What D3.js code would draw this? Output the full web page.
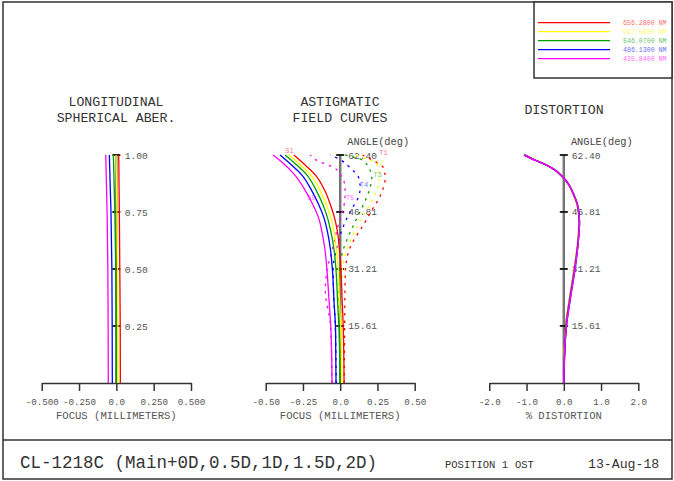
<!DOCTYPE html>
<html>
<head>
<meta charset="utf-8">
<script src="https://cdn.jsdelivr.net/npm/d3@7"></script>
<style>
  html, body { margin: 0; padding: 0; background: #fff; }
  svg { display: block; }
  text { font-family: "Liberation Mono", "DejaVu Sans Mono", monospace; }
</style>
</head>
<body>
<svg id="chart" width="674" height="481"></svg>
<script>
// ---- wavelengths (legend) ----
const wavelengths = ["656.2800", "587.5600", "546.0700", "486.1300", "435.8400"];
const waveColors  = ["#ff0000", "#ffff00", "#00a000", "#0000ff", "#ff00ff"];

// ---- longitudinal spherical aberration: focus (mm) vs relative pupil ----
const pupil = [0, 0.25, 0.5, 0.75, 1.0];
const lsaRed     = [0.027, 0.026, 0.023, 0.020, 0.016];
const lsaYellow  = [0.011, 0.010, 0.008, 0.004, -0.002];
const lsaGreen   = [0.000, -0.001, -0.004, -0.010, -0.020];
const lsaBlue    = [-0.027, -0.028, -0.030, -0.036, -0.047];
const lsaMagenta = [-0.054, -0.055, -0.057, -0.062, -0.071];
const lsaTicks = ["0.25", "0.50", "0.75", "1.00"];
const lsaTickVals = [0.25, 0.5, 0.75, 1.0];

// ---- astigmatic field curves: focus (mm) vs field angle (deg) ----
// sagittal (solid)
const sagAngles  = [0, 14.5, 22.7, 30.9, 36.4, 41.3, 45.2, 48.7, 52.8, 56.9, 60.2, 62.4];
const sagRed     = [0.026, 0.021, 0.013, 0.005, -0.005, -0.018, -0.038, -0.065, -0.105, -0.166, -0.250, -0.311];
const sagYellow  = [0.010, 0.004, -0.005, -0.013, -0.025, -0.042, -0.062, -0.092, -0.136, -0.196, -0.280, -0.344];
const sagGreen   = [-0.001, -0.008, -0.018, -0.028, -0.041, -0.062, -0.085, -0.115, -0.162, -0.223, -0.307, -0.370];
const sagBlue    = [-0.028, -0.031, -0.042, -0.052, -0.065, -0.085, -0.109, -0.143, -0.193, -0.257, -0.341, -0.404];
const sagMagenta = [-0.055, -0.062, -0.075, -0.089, -0.102, -0.122, -0.145, -0.182, -0.236, -0.304, -0.384, -0.451];

// tangential (dashed)
const tanAngles  = [0, 15.61, 25.5, 31.21, 36.4, 44.1, 47.9, 50.1, 53.4, 56.1, 59.0, 61.0, 62.4];
const tanRed     = [0.027, 0.030, 0.032, 0.036, 0.060, 0.168, 0.221, 0.255, 0.289, 0.302, 0.289, 0.215, 0.150];
const tanYellow  = [0.011, 0.010, 0.010, 0.015, 0.045, 0.130, 0.185, 0.215, 0.250, 0.262, 0.258, 0.200, 0.100];
const tanGreen   = [0.000, -0.004, -0.008, -0.004, 0.020, 0.100, 0.145, 0.170, 0.200, 0.212, 0.190, 0.148, 0.034];
const tanBlue    = [-0.027, -0.033, -0.045, -0.047, -0.027, 0.034, 0.081, 0.114, 0.134, 0.125, 0.065, 0.005, -0.067];
const tanMagenta = [-0.054, -0.065, -0.100, -0.087, -0.054, -0.007, 0.020, 0.032, 0.033, 0.015, -0.045, -0.160, -0.201];

// curve labels: text, focus (mm), angle (deg), colour index
const curveLabels = [
  ["S1", -0.34, 63.6, 0], ["S5", -0.195, 50.8, 4],
  ["T1", 0.29, 63.2, 0], ["T2", 0.265, 60.4, 1], ["T3", 0.25, 57.2, 2],
  ["T4", 0.16, 54.2, 3], ["T5", 0.067, 50.8, 4]
];

const angleTicks = ["15.61", "31.21", "46.81", "62.40"];
const angleTickVals = [15.61, 31.21, 46.81, 62.40];

// ---- distortion (%) vs field angle (deg) ----
const distAngles  = [0, 7.7, 15.61, 23.5, 31.21, 39.1, 44.1, 48.7, 51.5, 54.2, 56.1, 56.9, 58.3, 59.7, 61.0, 62.4];
const distRed     = [0, 0.01, 0.05, 0.16, 0.28, 0.38, 0.41, 0.36, 0.26, 0.13, 0.00, -0.08, -0.24, -0.47, -0.76, -1.05];
const distYellow  = [0, 0.01, 0.06, 0.17, 0.29, 0.38, 0.41, 0.36, 0.26, 0.13, 0.00, -0.08, -0.24, -0.47, -0.77, -1.06];
const distGreen   = [0, 0.02, 0.06, 0.17, 0.29, 0.39, 0.42, 0.37, 0.27, 0.14, 0.00, -0.08, -0.24, -0.48, -0.77, -1.06];
const distBlue    = [0, 0.02, 0.07, 0.18, 0.30, 0.39, 0.42, 0.37, 0.27, 0.14, 0.00, -0.08, -0.24, -0.48, -0.78, -1.07];
const distMagenta = [0, 0.02, 0.07, 0.18, 0.30, 0.39, 0.42, 0.37, 0.27, 0.14, 0.00, -0.08, -0.24, -0.48, -0.78, -1.07];

// x-axis ticks
const focusTickVals = [-0.5, -0.25, 0, 0.25, 0.5];
const focusTicksL = ["-0.500", "-0.250", "0.0", "0.250", "0.500"];
const focusTicksM = ["-0.50", "-0.25", "0.0", "0.25", "0.50"];
const distTickVals = [-2, -1, 0, 1, 2];
const distTicks   = ["-2.0", "-1.0", "0.0", "1.0", "2.0"];

const svg = d3.select("#chart");
const ink = "#333";
const grayText = "#555";

// ---- frame ----
svg.append("rect").attr("x", 3).attr("y", 2).attr("width", 669).attr("height", 477)
  .attr("fill", "none").attr("stroke", ink).attr("stroke-width", 1.5);
svg.append("line").attr("x1", 3).attr("x2", 672).attr("y1", 440).attr("y2", 440)
  .attr("stroke", ink).attr("stroke-width", 1.5);

// ---- legend ----
const legend = svg.append("g");
legend.append("rect").attr("x", 534).attr("y", 2).attr("width", 138).attr("height", 76)
  .attr("fill", "#fff").attr("stroke", ink).attr("stroke-width", 1.5);
const legY = d3.scalePoint().domain(wavelengths).range([22.7, 58.7]);
wavelengths.forEach((w, i) => {
  legend.append("line").attr("x1", 538).attr("x2", 610)
    .attr("y1", legY(w)).attr("y2", legY(w))
    .attr("stroke", waveColors[i]).attr("stroke-width", 1.2);
  legend.append("text").attr("x", 623).attr("y", legY(w) + 2.5)
    .attr("font-size", 6.6).attr("fill", waveColors[i]).attr("opacity", 0.6)
    .text(w + " NM");
});

// ---- footer text ----
svg.append("text").attr("x", 20).attr("y", 468).attr("font-size", 17.5).attr("fill", ink)
  .text("CL-1218C (Main+0D,0.5D,1D,1.5D,2D)");
svg.append("text").attr("x", 445).attr("y", 468).attr("font-size", 10.5).attr("fill", ink)
  .text("POSITION 1");
svg.append("text").attr("x", 515).attr("y", 468).attr("font-size", 10.5).attr("fill", ink)
  .text("OST");
svg.append("text").attr("x", 588).attr("y", 468).attr("font-size", 13.2).attr("fill", ink)
  .text("13-Aug-18");

// shared helpers
const yBottom = 383, yTop = 155;

function title(lines, cx, y0) {
  lines.forEach((t, i) => {
    svg.append("text").attr("x", cx).attr("y", y0 + i * 16.5)
      .attr("text-anchor", "middle").attr("font-size", 13.2).attr("fill", ink).text(t);
  });
}

function xAxis(scale, vals, labels, titleText) {
  const g = svg.append("g").attr("transform", `translate(0,${yBottom})`)
    .call(d3.axisBottom(scale).tickValues(vals).tickSize(8).tickSizeOuter(0)
      .tickFormat((d, i) => labels[i]));
  g.select(".domain").attr("stroke", ink).attr("stroke-width", 1.5);
  g.selectAll(".tick line").attr("stroke", ink).attr("stroke-width", 1.5);
  g.selectAll(".tick text").attr("font-size", 9.2).attr("fill", grayText)
    .attr("font-family", "Liberation Mono, monospace").attr("y", 15);
  const r = scale.range();
  svg.append("text").attr("x", (r[0] + r[1]) / 2).attr("y", 419)
    .attr("text-anchor", "middle").attr("font-size", 10.6).attr("fill", grayText)
    .text(titleText);
}

function yAxis(x0, yScale, vals, labels, labelDx, withAngleTitle) {
  svg.append("line").attr("x1", x0).attr("x2", x0)
    .attr("y1", yScale.range()[0]).attr("y2", yScale.range()[1])
    .attr("stroke", "#777").attr("stroke-width", 2.5);
  vals.forEach((v, i) => {
    svg.append("line").attr("x1", x0 - 4).attr("x2", x0 + 4)
      .attr("y1", yScale(v)).attr("y2", yScale(v))
      .attr("stroke", "#111").attr("stroke-width", 1.8);
    svg.append("text").attr("x", x0 + labelDx).attr("y", yScale(v) + 3.5)
      .attr("font-size", 9.6).attr("fill", grayText).text(labels[i]);
  });
  if (withAngleTitle) {
    svg.append("text").attr("x", x0 + 38).attr("y", 145)
      .attr("text-anchor", "middle").attr("font-size", 10.3).attr("fill", "#444")
      .text("ANGLE(deg)");
  }
}

// ---- longitudinal spherical aberration ----
const xL = d3.scaleLinear().domain([-0.5, 0.5]).range([41.7, 191]);
const yL = d3.scaleLinear().domain([0, 1]).range([yBottom, yTop]);
title(["LONGITUDINAL", "SPHERICAL ABER."], 116, 105.5);
xAxis(xL, focusTickVals, focusTicksL, "FOCUS (MILLIMETERS)");
yAxis(xL(0), yL, lsaTickVals, lsaTicks, 8.5, false);
const lsaSeries = [lsaRed, lsaYellow, lsaGreen, lsaBlue, lsaMagenta];
const lineL = d3.line().x(d => xL(d[1])).y(d => yL(d[0])).curve(d3.curveMonotoneY);
lsaSeries.forEach((s, i) => {
  svg.append("path").attr("d", lineL(pupil.map((p, j) => [p, s[j]])))
    .attr("fill", "none").attr("stroke", waveColors[i]).attr("stroke-width", 1.3);
});

// ---- astigmatic field curves ----
const xM = d3.scaleLinear().domain([-0.5, 0.5]).range([265.7, 414.7]);
const yA = d3.scaleLinear().domain([0, 62.4]).range([yBottom, yTop]);
title(["ASTIGMATIC", "FIELD CURVES"], 340, 105.5);
xAxis(xM, focusTickVals, focusTicksM, "FOCUS (MILLIMETERS)");
yAxis(xM(0), yA, angleTickVals, angleTicks, 8, true);
const lineM = d3.line().x(d => xM(d[1])).y(d => yA(d[0])).curve(d3.curveMonotoneY);
const sagSeries = [sagRed, sagYellow, sagGreen, sagBlue, sagMagenta];
const tanSeries = [tanRed, tanYellow, tanGreen, tanBlue, tanMagenta];
tanSeries.forEach((s, i) => {
  svg.append("path").attr("d", lineM(tanAngles.map((a, j) => [a, s[j]])))
    .attr("fill", "none").attr("stroke", waveColors[i]).attr("stroke-width", 1.3)
    .attr("stroke-dasharray", "2.5,5");
});
sagSeries.forEach((s, i) => {
  svg.append("path").attr("d", lineM(sagAngles.map((a, j) => [a, s[j]])))
    .attr("fill", "none").attr("stroke", waveColors[i]).attr("stroke-width", 1.3);
});
curveLabels.forEach(([t, f, a, ci]) => {
  svg.append("text").attr("x", xM(f)).attr("y", yA(a) + 2.5)
    .attr("text-anchor", "middle").attr("font-size", 7)
    .attr("fill", waveColors[ci]).attr("opacity", 0.55).text(t);
});

// ---- distortion ----
const xD = d3.scaleLinear().domain([-2, 2]).range([489.3, 638.3]);
title(["DISTORTION"], 564, 114);
xAxis(xD, distTickVals, distTicks, "% DISTORTION");
yAxis(xD(0), yA, angleTickVals, angleTicks, 8, true);
const lineD = d3.line().x(d => xD(d[1])).y(d => yA(d[0])).curve(d3.curveMonotoneY);
[distRed, distYellow, distGreen, distBlue, distMagenta].forEach((s, i) => {
  svg.append("path").attr("d", lineD(distAngles.map((a, j) => [a, s[j]])))
    .attr("fill", "none").attr("stroke", waveColors[i]).attr("stroke-width", 1.5);
});
</script>
</body>
</html>
